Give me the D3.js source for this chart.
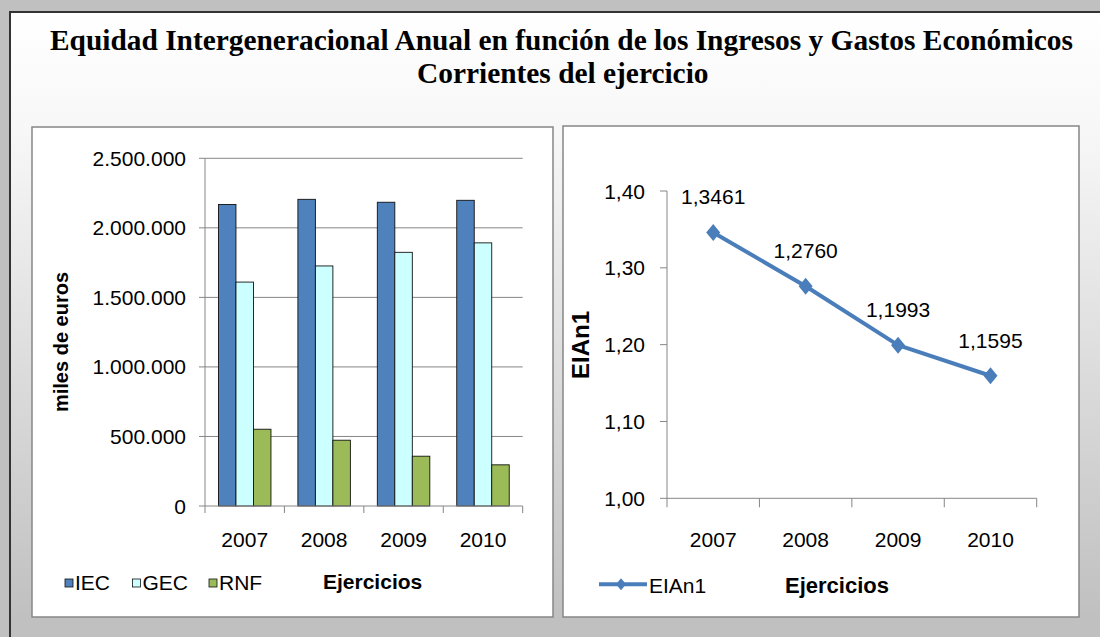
<!DOCTYPE html>
<html>
<head>
<meta charset="utf-8">
<script src="https://cdn.jsdelivr.net/npm/d3@7"></script>
<style>
  body { margin: 0; background: #c0c0c0; }
  text { font-family: "Liberation Sans", Arial, sans-serif; fill: #000; }
</style>
</head>
<body>
<div id="chart-area"></div>
<script>
// data
const years = ["2007", "2008", "2009", "2010"];
const seriesNames = ["IEC", "GEC", "RNF"];
const iec = [2168000, 2205000, 2184000, 2198000];
const gec = [1610000, 1726000, 1824000, 1892000];
const rnf = [552000, 473000, 358000, 296000];
const eian1 = [1.3461, 1.2760, 1.1993, 1.1595];
const barTicks = [0, 500000, 1000000, 1500000, 2000000, 2500000];
const lineTicks = [1.00, 1.10, 1.20, 1.30, 1.40];

const titleLines = ["Equidad Intergeneracional Anual en función de los Ingresos y Gastos Económicos",
                    "Corrientes del ejercicio"];

const colors = {IEC: "#4f81bd", GEC: "#ccffff", RNF: "#9bbb59"};
const lineColor = "#4a7ebb";
const axisColor = "#868686";

const es = d3.formatLocale({decimal: ",", thousands: ".", grouping: [3], currency: ["", " €"]});

const W = 1100, H = 637;
const svg = d3.select("#chart-area").append("svg")
    .attr("width", W).attr("height", H);

// background gradient
const defs = svg.append("defs");
const grad = defs.append("linearGradient").attr("id", "bg")
    .attr("x1", 0).attr("y1", 0).attr("x2", 0).attr("y2", 1);
grad.append("stop").attr("offset", "0%").attr("stop-color", "#ffffff");
grad.append("stop").attr("offset", "20%").attr("stop-color", "#f7f7f7");
grad.append("stop").attr("offset", "100%").attr("stop-color", "#c0c0c0");

svg.append("rect").attr("width", W).attr("height", H).attr("fill", "#c0c0c0");
svg.append("rect").attr("x", 10).attr("y", 12).attr("width", 1110).attr("height", 606)
    .attr("fill", "url(#bg)");
svg.append("rect").attr("x", 10).attr("y", 12).attr("width", 1110).attr("height", 640)
    .attr("fill", "none").attr("stroke", "#333").attr("stroke-width", 2);

// title, condensed like the original
const t1 = svg.append("text")
    .attr("x", 50).attr("y", 50)
    .style("font-family", "'Liberation Serif', 'Times New Roman', serif")
    .style("font-weight", "bold").style("font-size", "30px")
    .text(titleLines[0]);
const natural1 = t1.node().getComputedTextLength();
const squeeze = 1023 / natural1;
t1.attr("textLength", 1023).attr("lengthAdjust", "spacingAndGlyphs");
const t2 = svg.append("text")
    .attr("x", 417).attr("y", 83)
    .style("font-family", "'Liberation Serif', 'Times New Roman', serif")
    .style("font-weight", "bold").style("font-size", "30px")
    .text(titleLines[1]);
t2.attr("textLength", t2.node().getComputedTextLength() * squeeze).attr("lengthAdjust", "spacingAndGlyphs");

// panels
svg.append("rect").attr("x", 32).attr("y", 127).attr("width", 521).attr("height", 490)
    .attr("fill", "#fff").attr("stroke", axisColor).attr("stroke-width", 1.5);
svg.append("rect").attr("x", 563).attr("y", 126).attr("width", 516).attr("height", 491)
    .attr("fill", "#fff").attr("stroke", axisColor).attr("stroke-width", 1.5);

// ---------- bar chart ----------
const x0 = d3.scaleBand().domain(years).range([205, 522.7]);
const x1 = d3.scaleBand().domain(seriesNames).range([0, x0.bandwidth()]).paddingOuter(0.77);
const y0 = d3.scaleLinear().domain([0, 2500000]).range([506, 158.3]);

const bar = svg.append("g");
bar.selectAll("line.grid").data(barTicks.slice(1)).enter().append("line")
    .attr("x1", 205).attr("x2", 522.7)
    .attr("y1", d => y0(d)).attr("y2", d => y0(d))
    .attr("stroke", axisColor).attr("stroke-width", 1);

bar.selectAll("line.ytick").data(barTicks).enter().append("line")
    .attr("x1", 199).attr("x2", 205)
    .attr("y1", d => y0(d)).attr("y2", d => y0(d))
    .attr("stroke", axisColor);
bar.append("line").attr("x1", 205).attr("x2", 205).attr("y1", y0(2500000)).attr("y2", y0(0))
    .attr("stroke", axisColor);

bar.selectAll("text.ytl").data(barTicks).enter().append("text")
    .attr("x", 186).attr("y", d => y0(d)).attr("dy", "0.36em")
    .attr("text-anchor", "end").style("font-size", "21px")
    .text(d => es.format(",")(d));

const rows = years.map((yr, i) => ({year: yr, IEC: iec[i], GEC: gec[i], RNF: rnf[i]}));
const groups = bar.selectAll("g.grp").data(rows).enter().append("g")
    .attr("transform", d => `translate(${x0(d.year)},0)`);
groups.selectAll("rect").data(d => seriesNames.map(k => ({key: k, value: d[k]}))).enter().append("rect")
    .attr("x", d => x1(d.key)).attr("width", x1.bandwidth())
    .attr("y", d => y0(d.value)).attr("height", d => y0(0) - y0(d.value))
    .attr("fill", d => colors[d.key]).attr("stroke", "#111").attr("stroke-width", 0.9);

bar.append("line").attr("x1", 205).attr("x2", 522.7).attr("y1", y0(0)).attr("y2", y0(0))
    .attr("stroke", axisColor);
bar.selectAll("line.xtick").data(years.concat(["end"])).enter().append("line")
    .attr("x1", (d, i) => 205 + i * x0.step()).attr("x2", (d, i) => 205 + i * x0.step())
    .attr("y1", y0(0)).attr("y2", y0(0) + 7).attr("stroke", axisColor);
bar.selectAll("text.xtl").data(years).enter().append("text")
    .attr("x", d => x0(d) + x0.bandwidth() / 2).attr("y", 547)
    .attr("text-anchor", "middle").style("font-size", "21px").text(d => d);

bar.append("text")
    .attr("transform", "translate(68,342) rotate(-90)")
    .attr("text-anchor", "middle").style("font-size", "20px").style("font-weight", "bold")
    .text("miles de euros");

// legend
const legX = [65, 132.5, 209];
seriesNames.forEach((k, i) => {
  bar.append("rect").attr("x", legX[i]).attr("y", 579).attr("width", 8).attr("height", 8)
      .attr("fill", colors[k]).attr("stroke", "#111").attr("stroke-width", 0.8);
  bar.append("text").attr("x", legX[i] + 10).attr("y", 590)
      .style("font-size", "21px").text(k);
});
bar.append("text").attr("x", 323).attr("y", 589)
    .style("font-size", "21px").style("font-weight", "bold").text("Ejercicios");

// ---------- line chart ----------
const xL = d3.scaleBand().domain(years).range([667, 1036.7]);
const yL = d3.scaleLinear().domain([1.0, 1.4]).range([498.3, 191]);
const line = svg.append("g");

line.append("line").attr("x1", 667).attr("x2", 667).attr("y1", yL(1.4)).attr("y2", yL(1.0))
    .attr("stroke", axisColor);
line.selectAll("line.ytick").data(lineTicks).enter().append("line")
    .attr("x1", 660).attr("x2", 667)
    .attr("y1", d => yL(d)).attr("y2", d => yL(d)).attr("stroke", axisColor);
line.selectAll("text.ytl").data(lineTicks).enter().append("text")
    .attr("x", 645).attr("y", d => yL(d)).attr("dy", "0.36em")
    .attr("text-anchor", "end").style("font-size", "21px")
    .text(d => es.format(".2f")(d));

line.append("line").attr("x1", 667).attr("x2", 1036.7).attr("y1", yL(1.0)).attr("y2", yL(1.0))
    .attr("stroke", axisColor);
line.selectAll("line.xtick").data(years.concat(["end"])).enter().append("line")
    .attr("x1", (d, i) => 667 + i * xL.step()).attr("x2", (d, i) => 667 + i * xL.step())
    .attr("y1", yL(1.0)).attr("y2", yL(1.0) + 9).attr("stroke", axisColor);
line.selectAll("text.xtl").data(years).enter().append("text")
    .attr("x", d => xL(d) + xL.bandwidth() / 2).attr("y", 547)
    .attr("text-anchor", "middle").style("font-size", "21px").text(d => d);

const pts = years.map((yr, i) => ({year: yr, v: eian1[i]}));
const px = d => xL(d.year) + xL.bandwidth() / 2;
line.append("path").datum(pts)
    .attr("d", d3.line().x(px).y(d => yL(d.v)))
    .attr("fill", "none").attr("stroke", lineColor).attr("stroke-width", 4)
    .attr("stroke-linejoin", "round");

const diamond = (cx, cy, hw, hh) => `M${cx},${cy - hh}L${cx + hw},${cy}L${cx},${cy + hh}L${cx - hw},${cy}Z`;
line.selectAll("path.mk").data(pts).enter().append("path")
    .attr("d", d => diamond(px(d), yL(d.v), 7, 8.5))
    .attr("fill", lineColor);

line.selectAll("text.lbl").data(pts).enter().append("text")
    .attr("x", px).attr("y", d => yL(d.v) - 28)
    .attr("text-anchor", "middle").style("font-size", "21px")
    .text(d => es.format(".4f")(d.v));

line.append("text")
    .attr("transform", "translate(589,345) rotate(-90)")
    .attr("text-anchor", "middle").style("font-size", "24px").style("font-weight", "bold")
    .text("EIAn1");

// legend
line.append("line").attr("x1", 599).attr("x2", 647).attr("y1", 584.3).attr("y2", 584.3)
    .attr("stroke", lineColor).attr("stroke-width", 4);
line.append("path").attr("d", diamond(621, 584.3, 5, 6)).attr("fill", lineColor);
line.append("text").attr("x", 649).attr("y", 593)
    .style("font-size", "21px").text("EIAn1");
line.append("text").attr("x", 785).attr("y", 593)
    .style("font-size", "22px").style("font-weight", "bold").text("Ejercicios");
</script>
</body>
</html>
